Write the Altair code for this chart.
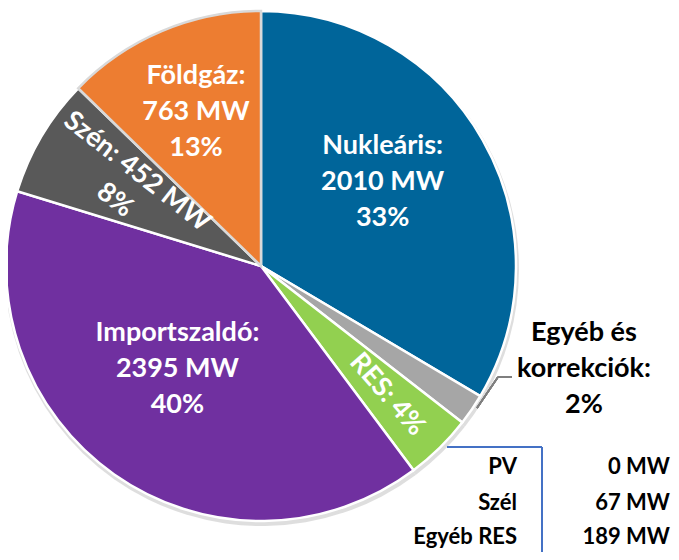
import altair as alt
import pandas as pd

# ---- data ----
names = ["Nukleáris", "Egyéb és korrekciók", "RES", "Importszaldó", "Szén", "Földgáz"]
values = [2010, 120, 256, 2395, 452, 763]          # MW
percents = [33, 2, 4, 40, 8, 13]                   # % shown on labels
colors = ["#00659A", "#A6A6A6", "#92D050", "#7030A0", "#595959", "#ED7D31"]
strokes = ["white", "white", "white", "white", "white", "#D9D9D9"]

res_parts = ["PV", "Szél", "Egyéb RES"]
res_mw = [0, 67, 189]

# ---- tables ----
def make_label(n, v, p):
    if n == "Egyéb és korrekciók":
        return f"Egyéb és\nkorrekciók:\n{p}%"
    if n == "Szén":
        return f"{n}: {v} MW\n{p}%"
    if n == "RES":
        return f"{n}: {p}%"
    return f"{n}:\n{v} MW\n{p}%"

df = pd.DataFrame({
    "name": names,
    "value": values,
    "pct": percents,
    "order": list(range(len(names))),
})
df["label"] = [make_label(n, v, p) for n, v, p in zip(names, values, percents)]
total = sum(values)

res_df = pd.DataFrame({"part": res_parts, "mw": [f"{m} MW" for m in res_mw]})

CX, CY, R = 253, 258, 255
FONT = "Lato"
FS = 27
LH = 36
theta_scale = alt.Scale(domain=[0, total])

base = alt.Chart(df).transform_stack(
    stack="value", groupby=[], as_=["start", "end"], sort=[alt.SortField("order")]
).transform_calculate(mid="(datum.start + datum.end) / 2")

shadow = base.mark_arc(radius=R + 2, color="#D0D0D0", opacity=0.7).encode(
    theta=alt.Theta("start:Q", scale=theta_scale),
    theta2="end:Q",
    x=alt.value(CX + 1),
    y=alt.value(CY + 3),
)

pie = base.mark_arc(radius=R, strokeWidth=2.5).encode(
    theta=alt.Theta("start:Q", scale=theta_scale),
    theta2="end:Q",
    color=alt.Color("name:N", scale=alt.Scale(domain=names, range=colors), legend=None),
    stroke=alt.Stroke("name:N", scale=alt.Scale(domain=names, range=strokes), legend=None),
    order=alt.Order("order:Q"),
    x=alt.value(CX),
    y=alt.value(CY),
)

def slice_label(name, radius, dx=0, dy=0, angle=0, color="white"):
    return base.transform_filter(alt.datum.name == name).mark_text(
        radius=radius, dx=dx, dy=dy, angle=angle, font=FONT, fontSize=FS,
        fontWeight="bold", color=color, lineBreak="\n", lineHeight=LH,
        align="center", baseline="middle",
    ).encode(
        theta=alt.Theta("mid:Q", scale=theta_scale),
        text="label:N",
        x=alt.value(CX),
        y=alt.value(CY),
    )

# multi-line text is anchored on its first line, so shift blocks up by (lines-1)*LH/2
lab_nuk = slice_label("Nukleáris", 148, dx=-7, dy=-11 - LH)
lab_fold = slice_label("Földgáz", 167, dy=-LH)
lab_imp = slice_label("Importszaldó", 133, dx=-7, dy=-6 - LH)
lab_szen = slice_label("Szén", 157, angle=38, dy=-LH / 2)
lab_res = slice_label("RES", 180, angle=49)

lab_egyeb = base.transform_filter(alt.datum.name == "Egyéb és korrekciók").mark_text(
    font=FONT, fontSize=FS, fontWeight="bold", color="black", lineBreak="\n",
    lineHeight=LH, align="center", baseline="middle",
).encode(text="label:N", x=alt.value(576), y=alt.value(361 - LH))

leader1 = alt.Chart(df).mark_rule(color="#7F7F7F", strokeWidth=1.5).encode(
    x=alt.value(469), y=alt.value(400), x2=alt.value(490), y2=alt.value(369))
leader2 = alt.Chart(df).mark_rule(color="#7F7F7F", strokeWidth=1.5).encode(
    x=alt.value(490), y=alt.value(369), x2=alt.value(504), y2=alt.value(369))

bracket_h = alt.Chart(df).mark_rule(color="#4472C4", strokeWidth=1.5).encode(
    x=alt.value(439), y=alt.value(439), x2=alt.value(534), y2=alt.value(439))
bracket_v = alt.Chart(df).mark_rule(color="#4472C4", strokeWidth=1.5).encode(
    x=alt.value(534), y=alt.value(439), x2=alt.value(534), y2=alt.value(544))

row_px = [459, 495, 529]
table_layers = []
for part, ypx in zip(res_parts, row_px):
    sub = alt.Chart(res_df).transform_filter(alt.datum.part == part)
    table_layers.append(sub.mark_text(
        font=FONT, fontSize=22, fontWeight="bold", color="black", align="right", baseline="middle"
    ).encode(y=alt.value(ypx), x=alt.value(509), text="part:N"))
    table_layers.append(sub.mark_text(
        font=FONT, fontSize=22, fontWeight="bold", color="black", align="right", baseline="middle"
    ).encode(y=alt.value(ypx), x=alt.value(662), text="mw:N"))

chart = alt.layer(
    shadow, pie, lab_nuk, lab_fold, lab_imp, lab_szen, lab_res, lab_egyeb,
    leader1, leader2, bracket_h, bracket_v, *table_layers,
).properties(
    width=663, height=544, autosize="none", padding=0
).configure_view(stroke=None)

chart.save("out.html", embed_options={"renderer": "svg", "actions": False})
